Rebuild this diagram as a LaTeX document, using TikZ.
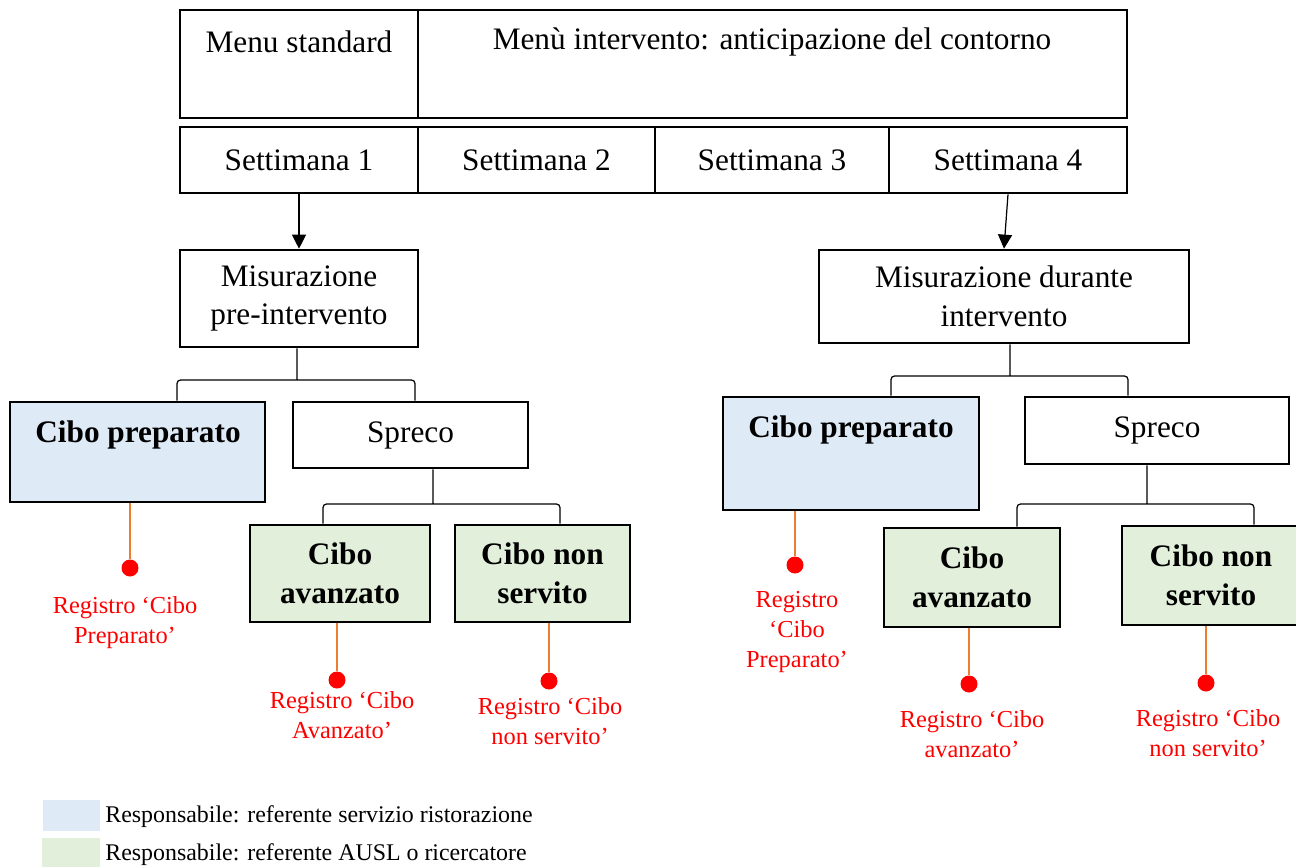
\documentclass[tikz,border=0pt]{standalone}
\usepackage{fontspec}
\setmainfont{Liberation Serif}
\usepackage{tikz}
\usetikzlibrary{arrows.meta}

\definecolor{prepblue}{HTML}{DEEAF6}
\definecolor{avgreen}{HTML}{E2EFDA}
\definecolor{regred}{HTML}{FF0000}
\definecolor{stemorange}{HTML}{ED7D31}

\tikzset{
  wh/.style 2 args={minimum width=#1*0.02cm, minimum height=#2*0.02cm},
  box/.style={draw, line width=1.5pt, inner sep=0pt, align=center,
    font=\fontsize{17.8}{22}\selectfont},
  boldbox/.style={box, fill=avgreen, font=\fontsize{17.8}{22.5}\selectfont\bfseries},
  boxtext/.style={inner sep=0pt, font=\fontsize{17.8}{22}\selectfont},
  regdot/.style={circle, fill=regred, inner sep=0pt, minimum size=0.34cm},
  regtext/.style={text=regred, align=center, inner sep=0pt,
    font=\fontsize{13.9}{17}\selectfont},
  legtext/.style={anchor=west, inner sep=0pt, font=\fontsize{13.6}{16}\selectfont},
  brace/.style={line width=0.7pt, rounded corners=2pt},
  stem/.style={stemorange, line width=0.6pt},
  feed/.style={-{Triangle[length=8pt,width=8pt]}, line width=0.7pt},
}

\begin{document}
\begin{tikzpicture}[x=0.02cm, y=-0.02cm]
\useasboundingbox (0,0) rectangle (1296,867);

\path
 (299,64)    node [box, wh={238}{108}] (menustd) {}
 (772.5,64)  node [box, wh={709}{108}] (menuint) {}
 (299,42)    node [boxtext] (menustdT) {Menu standard}
 (772,42)    node [boxtext] (menuintT) {Menù intervento: anticipazione del contorno}
 (299,160)   node [box, wh={238}{66}] (sett1) {Settimana 1}
 (536.5,160) node [box, wh={237}{66}] (sett2) {Settimana 2}
 (772,160)   node [box, wh={234}{66}] (sett3) {Settimana 3}
 (1008,160)  node [box, wh={238}{66}] (sett4) {Settimana 4}
 (299,298.5) node [box, wh={238}{97}] (mpre) {Misurazione\\pre-intervento}
 (1004,296.5) node [box, wh={370}{93}] (mdur) {Misurazione durante\\intervento}
;

\path
 (137.5,452) node [box, fill=prepblue, wh={255}{100}] (prepL) {}
 (138,435)   node [boxtext, font=\fontsize{17.8}{22}\selectfont\bfseries] (prepLT) {Cibo preparato}
 (410.5,435) node [box, wh={235}{66}] (sprecoL) {Spreco}
 (340,573.5) node [boldbox, wh={180}{97}] (avanzL) {Cibo\\avanzato}
 (542.5,573.5) node [boldbox, wh={175}{97}] (nonservL) {Cibo non\\servito}
 (851,453.5) node [box, fill=prepblue, wh={256}{113}] (prepR) {}
 (851,430)   node [boxtext, font=\fontsize{17.8}{22}\selectfont\bfseries] (prepRT) {Cibo preparato}
 (1157,430.5) node [box, wh={264}{67}] (sprecoR) {Spreco}
 (972,577.5) node [boldbox, wh={176}{99}] (avanzR) {Cibo\\avanzato}
 (1211,575.5) node [boldbox, wh={178}{99}] (nonservR) {Cibo non\\servito}
;

\path
 (297,380)  coordinate (jpre)
 (433,504)  coordinate (jsprL)
 (1010,376) coordinate (jdur)
 (1147,504) coordinate (jsprR)
 (130,568)  node [regdot] (dotprepL) {}
 (337,680)  node [regdot] (dotavanzL) {}
 (549,681)  node [regdot] (dotnonL) {}
 (795,565)  node [regdot] (dotprepR) {}
 (969,684)  node [regdot] (dotavanzR) {}
 (1206,683) node [regdot] (dotnonR) {}
 (125,623)  node [regtext] (regprepL) {Registro ‘Cibo\\Preparato’}
 (342,715)  node [regtext] (regavanzL) {Registro ‘Cibo\\Avanzato’}
 (550,721)  node [regtext] (regnonL) {Registro ‘Cibo\\non servito’}
 (797,632)  node [regtext] (regprepR) {Registro\\‘Cibo\\Preparato’}
 (972,734)  node [regtext] (regavanzR) {Registro ‘Cibo\\avanzato’}
 (1208,733) node [regtext] (regnonR) {Registro ‘Cibo\\non servito’}
;

\draw[feed] (sett1.south) -- (mpre.north);
\draw[feed] (sett4.south) -- (mdur.north);

\draw[brace]
   (mpre.south -| jpre) -- (jpre)
   (177,0 |- prepL.north) |- (jpre) -| (415,0 |- sprecoL.north)
   (sprecoL.south -| jsprL) -- (jsprL)
   (323,0 |- avanzL.north) |- (jsprL) -| (560,0 |- nonservL.north)
   (mdur.south -| jdur) -- (jdur)
   (891,0 |- prepR.north) |- (jdur) -| (1128,0 |- sprecoR.north)
   (sprecoR.south -| jsprR) -- (jsprR)
   (1017,0 |- avanzR.north) |- (jsprR) -| (1254,0 |- nonservR.north)
;

\draw[stem]
   (dotprepL |- prepL.south)     -- (dotprepL)
   (dotavanzL |- avanzL.south)   -- (dotavanzL)
   (dotnonL |- nonservL.south)   -- (dotnonL)
   (dotprepR |- prepR.south)     -- (dotprepR)
   (dotavanzR |- avanzR.south)   -- (dotavanzR)
   (dotnonR |- nonservR.south)   -- (dotnonR)
;

\path
 (71.5,815.5) node [fill=prepblue, inner sep=0pt, wh={57}{31}] (legblue) {}
 (71,852.5)   node [fill=avgreen, inner sep=0pt, wh={58}{29}]  (leggreen) {}
 (105,817) node [legtext] (legblueT) {Responsabile: referente servizio ristorazione}
 (105,855) node [legtext] (leggreenT) {Responsabile: referente AUSL o ricercatore}
;
\end{tikzpicture}
\end{document}
